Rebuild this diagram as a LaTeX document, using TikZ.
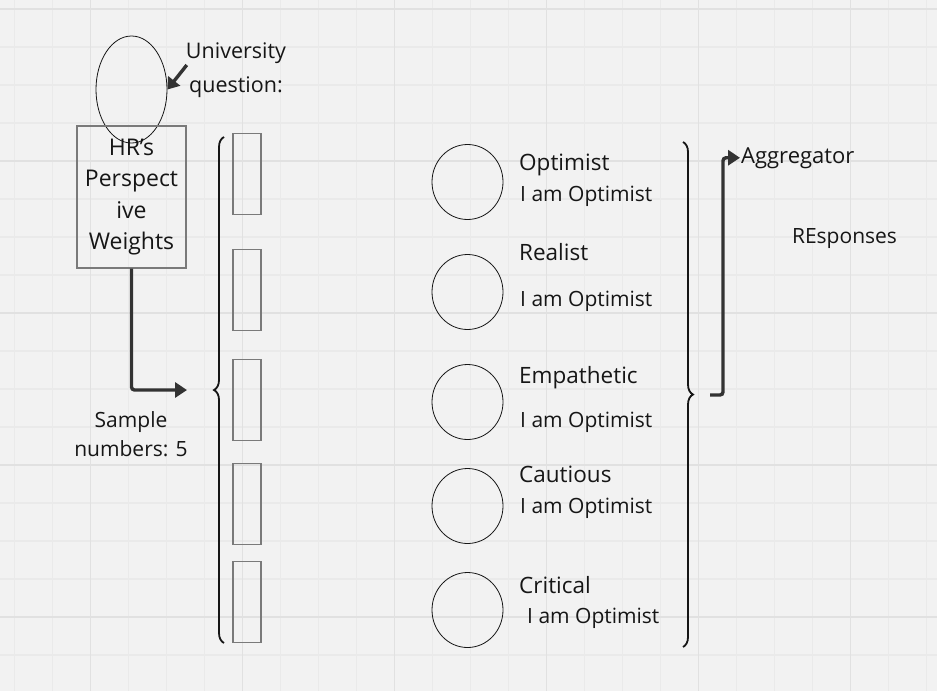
\documentclass[tikz,border=0pt]{standalone}
\usepackage{fontspec}
\setmainfont{Open Sans}
\usetikzlibrary{arrows.meta,shapes.geometric,decorations.pathreplacing}

\definecolor{boardbg}{HTML}{F2F2F2}
\definecolor{gridminor}{HTML}{EAEAEA}
\definecolor{gridmajor}{HTML}{E1E1E1}
\definecolor{ink}{HTML}{161616}
\definecolor{arrowink}{HTML}{333333}
\definecolor{boxline}{HTML}{7A7A7A}

\tikzset{
  txt/.style={font=\fontsize{21}{31}\selectfont, text=ink, inner sep=0pt, align=center},
  personaname/.style={txt, font=\fontsize{22.5}{31}\selectfont, anchor=base west},
  persona/.style={ellipse, draw=ink, line width=0.8pt, minimum width=71, minimum height=75, inner sep=0pt},
  slot/.style={rectangle, draw=boxline, line width=1.3pt, minimum width=28, minimum height=81, inner sep=0pt},
  flow/.style={arrowink, line width=3.4pt, rounded corners=3pt, -{Triangle[length=12pt,width=15pt]}},
  bracket/.style={ink, line width=1.8pt, decorate, decoration={brace, amplitude=10pt}},
}

\begin{document}
\begin{tikzpicture}[x=1pt, y=-1pt]
    % Board with its grid
    \useasboundingbox (0,0) rectangle (937,691);
    \fill[boardbg] (0,0) rectangle (937,691);
    \foreach \gx in {14.7,52.7,...,937} \draw[gridminor, line width=1.1pt] (\gx,0) -- (\gx,691);
    \foreach \gy in {9,47,...,691} \draw[gridminor, line width=1.1pt] (0,\gy) -- (937,\gy);
    \foreach \gx in {90.7,242.7,...,937} \draw[gridmajor, line width=1.4pt] (\gx,0) -- (\gx,691);
    \foreach \gy in {9,161,...,691} \draw[gridmajor, line width=1.4pt] (0,\gy) -- (937,\gy);

    % Question and HR weights
    \node[ellipse, draw=ink, line width=0.8pt, minimum width=71, minimum height=107, inner sep=0pt] (qcirc) at (131.5,89.5) {};
    \node[txt, font=\fontsize{21.5}{34}\selectfont] (qtext) at (236,70) {University\\question:};
    \draw[flow, -{Triangle[length=11pt,width=15pt]}] ([xshift=1pt,yshift=5pt]qtext.west) -- (qcirc.east);

    \node[txt, font=\fontsize{23}{31.3}\selectfont, draw=boxline, line width=1.3pt, minimum width=109, minimum height=142] (hr) at (131.5,197) {HR's\\Perspect\\ive\\Weights};
    \node[txt, font=\fontsize{21}{28.5}\selectfont] (sample) at (131,434) {Sample\\numbers: 5};

    % Sample slots
    \coordinate (slotin) at (187,390);
    \draw[flow] (hr.south) |- (slotin);
    \draw[bracket] (224,643) -- (224,137);
    \node[slot] (s1) at (247,174) {};
    \node[slot] (s2) at (247,290) {};
    \node[slot] (s3) at (247,400) {};
    \node[slot] (s4) at (247,504) {};
    \node[slot] (s5) at (247,602) {};

    % Personas
    \node[persona] (p1) at (467.5,182) {};
    \node[persona] (p2) at (467.5,292) {};
    \node[persona] (p3) at (467.5,402) {};
    \node[persona] (p4) at (467.5,506) {};
    \node[persona] (p5) at (467.5,610) {};

    \node[personaname] (n1) at (519,170) {Optimist};
    \node[txt, anchor=base west] (m1) at (520,201) {I am Optimist};
    \node[personaname] (n2) at (519,260) {Realist};
    \node[txt, anchor=base west] (m2) at (520,306) {I am Optimist};
    \node[personaname] (n3) at (519,383) {Empathetic};
    \node[txt, anchor=base west] (m3) at (520,427) {I am Optimist};
    \node[personaname] (n4) at (519,482) {Cautious};
    \node[txt, anchor=base west] (m4) at (520,513) {I am Optimist};
    \node[personaname] (n5) at (519,593) {Critical};
    \node[txt, anchor=base west] (m5) at (527,623) {I am Optimist};

    % Aggregation
    \draw[bracket] (683,142) -- (683,647);
    \coordinate (aggin) at (710,395);
    \node[txt, font=\fontsize{22}{31}\selectfont, anchor=base west, inner xsep=1pt] (agg) at (740,163) {Aggregator};
    \draw[flow] (aggin) -- ++(13,0) |- (agg.west);
    \node[txt, anchor=base] (resp) at (844.5,243) {REsponses};
\end{tikzpicture}
\end{document}
